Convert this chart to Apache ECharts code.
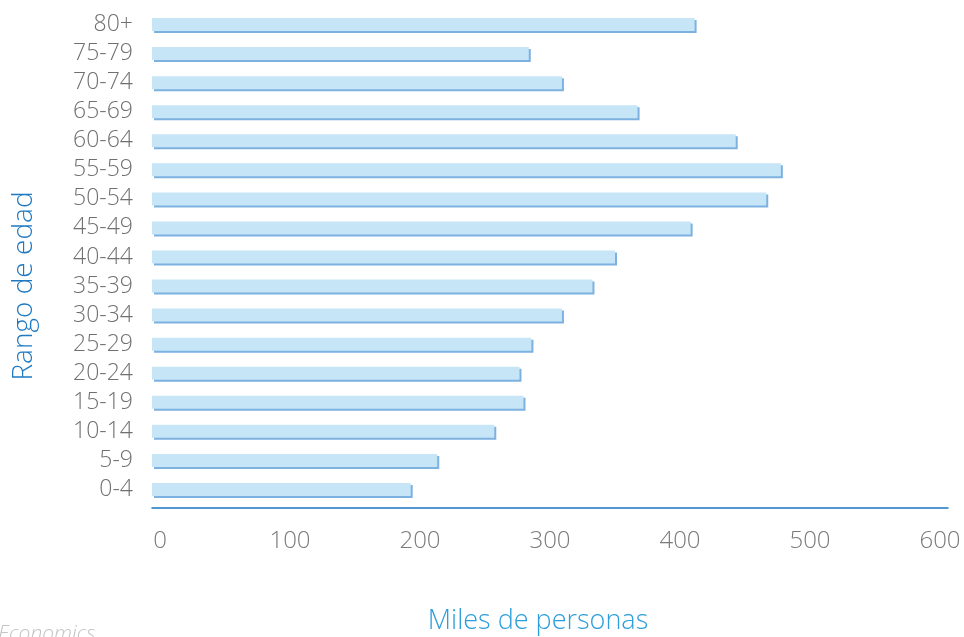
<!DOCTYPE html>
<html>
<head>
<meta charset="utf-8">
<script src="https://cdn.jsdelivr.net/npm/echarts@6/dist/echarts.min.js"></script>
<style>
  html, body { margin: 0; padding: 0; background: #fff; }
  #chart { width: 964px; height: 637px; }
</style>
</head>
<body>
<div id="chart"></div>
<script>
// Age groups, bottom to top
const ageGroups = ['0-4', '5-9', '10-14', '15-19', '20-24', '25-29', '30-34', '35-39',
  '40-44', '45-49', '50-54', '55-59', '60-64', '65-69', '70-74', '75-79', '80+'];
// Population, thousands of people
const population = [195, 215, 258, 280, 277, 286, 309, 332,
  349, 406, 463, 474, 440, 366, 309, 284, 409];
// Value axis ticks
const xTicks = [0, 100, 200, 300, 400, 500, 600];
const xMin = xTicks[0];
const xMax = xTicks[xTicks.length - 1];
const xStep = xTicks[1] - xTicks[0];

const labelFont = '"Open Sans", "DejaVu Sans", sans-serif';

const chart = echarts.init(document.getElementById('chart'), null, { renderer: 'canvas' });

chart.setOption({
  animation: false,
  grid: [
    { left: 152, right: 16, top: 10, bottom: 133, containLabel: false },
    { left: 160, right: 24, top: 10, bottom: 133, containLabel: false }
  ],
  xAxis: [
    {
      type: 'value', gridIndex: 0, min: xMin, max: xMax, interval: xStep,
      offset: 4,
      axisLine: { show: true, lineStyle: { color: '#1b75c4', width: 1.5 } },
      axisTick: { show: false },
      axisLabel: { show: false },
      splitLine: { show: false }
    },
    {
      type: 'value', gridIndex: 1, min: xMin, max: xMax, interval: xStep,
      axisLine: { show: false },
      axisTick: { show: false },
      splitLine: { show: false },
      axisLabel: {
        show: true, margin: 25, color: '#7a7a7a', fontSize: 24,
        fontFamily: labelFont, fontWeight: 300
      }
    }
  ],
  yAxis: [
    {
      type: 'category', gridIndex: 0, data: ageGroups,
      axisLine: { show: false },
      axisTick: { show: false },
      splitLine: { show: false },
      axisLabel: {
        interval: 0, hideOverlap: false,
        margin: 19, color: '#707070', fontSize: 23,
        fontFamily: labelFont, fontWeight: 300
      }
    },
    {
      type: 'category', gridIndex: 1, data: ageGroups, show: false
    }
  ],
  series: [
    {
      type: 'bar', xAxisIndex: 0, yAxisIndex: 0,
      data: population,
      barWidth: 13,
      itemStyle: {
        color: '#c6e6f7',
        shadowColor: '#7db1e0',
        shadowOffsetX: 2,
        shadowOffsetY: 2,
        shadowBlur: 0
      }
    }
  ],
  graphic: [
    {
      type: 'text', x: 24, y: 286, rotation: Math.PI / 2,
      style: {
        text: 'Rango de edad', fill: '#1f79c2', fontSize: 28,
        fontFamily: labelFont, fontWeight: 300,
        textAlign: 'center', textVerticalAlign: 'middle'
      }
    },
    {
      type: 'text', x: 538, y: 621,
      style: {
        text: 'Miles de personas', fill: '#2d9fdc', fontSize: 27,
        fontFamily: labelFont, fontWeight: 300,
        textAlign: 'center', textVerticalAlign: 'middle'
      }
    },
    {
      type: 'text', x: -2, y: 634,
      style: {
        text: 'Economics', fill: '#c4c4c4', fontSize: 21,
        fontFamily: labelFont, fontWeight: 300, fontStyle: 'italic',
        textAlign: 'left', textVerticalAlign: 'middle'
      }
    }
  ]
});
</script>
</body>
</html>
